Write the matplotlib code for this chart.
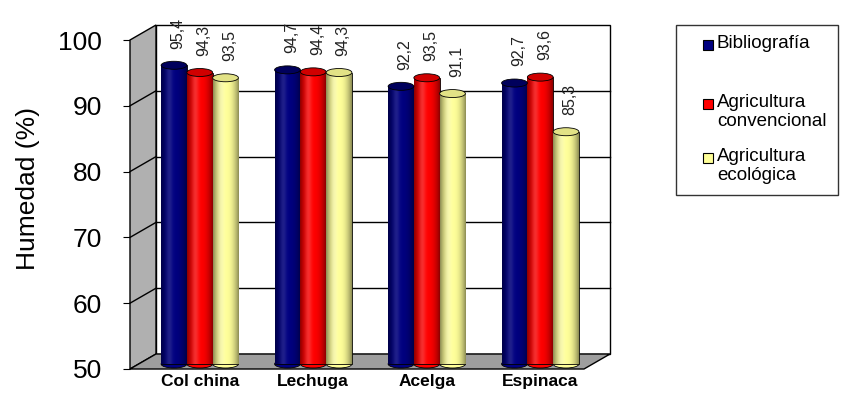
import numpy as np
import matplotlib
matplotlib.use('Agg')
import matplotlib.pyplot as plt
from matplotlib.patches import Polygon, Ellipse, Rectangle
from matplotlib.colors import to_rgb

plt.rcParams['font.family'] = ['Liberation Sans', 'DejaVu Sans']

# ---------------- data ----------------
categories = ['Col china', 'Lechuga', 'Acelga', 'Espinaca']
series_names = ['Bibliografía', 'Agricultura convencional', 'Agricultura ecológica']
legend_labels = ['Bibliografía', 'Agricultura\nconvencional', 'Agricultura\necológica']
bibliografia = [95.4, 94.7, 92.2, 92.7]
convencional = [94.3, 94.4, 93.5, 93.6]
ecologica = [93.5, 94.3, 91.1, 85.3]
y_ticks = [50, 60, 70, 80, 90, 100]
y_label = 'Humedad (%)'

series_values = [bibliografia, convencional, ecologica]
colors = ['#000080', '#ff0000', '#ffff99']
top_colors = ['#00005c', '#d00000', '#e2e286']

# ---------------- figure / axes ----------------
W, H = 843, 394
fig = plt.figure(figsize=(W / 100, H / 100), dpi=100)
AX_L, AX_R, AX_T, AX_B = 130, 584, 40, 369
ax = fig.add_axes([AX_L / W, 1 - AX_B / H, (AX_R - AX_L) / W, (AX_B - AX_T) / H])
XMIN, XMAX = -0.5, len(categories) - 0.5
YMIN, YMAX = y_ticks[0], y_ticks[-1]
ax.set_xlim(XMIN, XMAX)
ax.set_ylim(YMIN, YMAX)
ax.patch.set_visible(False)
for s in ax.spines.values():
    s.set_visible(False)

pxx = (AX_R - AX_L) / (XMAX - XMIN)
pxy = (AX_B - AX_T) / (YMAX - YMIN)
BDX, BDY = 26 / pxx, 15 / pxy     # depth of back wall
MDX, MDY = 13 / pxx, 5 / pxy      # bar plane

# back wall
ax.add_patch(Rectangle((XMIN + BDX, YMIN + BDY), XMAX - XMIN, YMAX - YMIN,
                       facecolor='white', edgecolor='black', lw=1.0, zorder=1, clip_on=False))
for v in y_ticks[1:-1]:
    ax.plot([XMIN + BDX, XMAX + BDX], [v + BDY, v + BDY], color='black', lw=1.0,
            zorder=1.5, clip_on=False)
# side wall
ax.add_patch(Polygon([(XMIN, YMIN), (XMIN, YMAX), (XMIN + BDX, YMAX + BDY), (XMIN + BDX, YMIN + BDY)],
                     closed=True, facecolor='#b0b0b0', edgecolor='black', lw=1.0, zorder=2, clip_on=False))
for v in y_ticks[1:-1]:
    ax.plot([XMIN, XMIN + BDX], [v, v + BDY], color='black', lw=1.0, zorder=2.1, clip_on=False)
# floor
ax.add_patch(Polygon([(XMIN, YMIN), (XMIN + BDX, YMIN + BDY), (XMAX + BDX, YMIN + BDY), (XMAX, YMIN)],
                     closed=True, facecolor='#9e9e9e', edgecolor='black', lw=1.0, zorder=2, clip_on=False))

# ---------------- cylinders ----------------
bw = 0.227
x = np.arange(len(categories))
ell_h = 8 / pxy
tt = np.linspace(0, 1, 80)


def shade(base, hl):
    b = np.array(to_rgb(base))
    d = 1 - 0.45 * np.abs(2 * tt - 1) ** 2.2
    h = hl * np.exp(-((tt - 0.32) / 0.13) ** 2)
    c = b[None, :] * d[:, None]
    c = c + (1 - c) * h[:, None]
    return np.clip(c, 0, 1)[None, :, :]


highlights = [0.12, 0.18, 0.25]
for k, vals in enumerate(series_values):
    xs = x + (k - 1) * bw + MDX
    heights = [v - YMIN for v in vals]
    bars = ax.bar(xs, heights, width=bw, bottom=YMIN + MDY, color=colors[k],
                  edgecolor='black', linewidth=0.6, zorder=3.1)
    grad = shade(colors[k], highlights[k])
    for xc, v, rect in zip(xs, vals, bars):
        ax.add_patch(Ellipse((xc, YMIN + MDY), bw, ell_h, facecolor=colors[k],
                             edgecolor='black', lw=0.6, zorder=3.0))
        im = ax.imshow(grad, extent=[xc - bw / 2, xc + bw / 2, YMIN + MDY, v + MDY],
                       aspect='auto', interpolation='bilinear', zorder=3.2)
        im.set_clip_path(rect)
        ax.add_patch(Ellipse((xc, v + MDY), bw, ell_h, facecolor=top_colors[k],
                             edgecolor='black', lw=0.6, zorder=3.3))
        ax.annotate(f'{v:.1f}'.replace('.', ','), xy=(xc, v + MDY), xytext=(3, 12),
                    textcoords='offset points', rotation=90, ha='center', va='bottom',
                    fontsize=11.5, color='#222222', zorder=5)

ax.set_xlim(XMIN, XMAX)
ax.set_ylim(YMIN, YMAX)

# ---------------- ticks ----------------
ax.set_yticks(y_ticks)
ax.set_yticklabels([str(t) for t in y_ticks])
ax.tick_params(axis='y', direction='out', length=5, width=0.8, pad=15, labelsize=19)
ax.set_xticks(x + MDX)
ax.set_xticklabels(categories, fontweight='bold', fontsize=12.5)
ax.tick_params(axis='x', length=0, pad=3.5)

fig.text(28 / W, 1 - 189 / H, y_label, rotation=90, ha='center', va='center', fontsize=19)

# ---------------- legend ----------------
fig.patches.append(Rectangle((676 / W, 1 - 195 / H), (838 - 676) / W, (195 - 25) / H,
                             transform=fig.transFigure, facecolor='white',
                             edgecolor='#333333', lw=1.0))
leg_y = [45, 104, 158]
for k, lab in enumerate(legend_labels):
    fig.patches.append(Rectangle((703 / W, 1 - (leg_y[k] + 5) / H), 10 / W, 10 / H,
                                 transform=fig.transFigure, facecolor=colors[k],
                                 edgecolor='black', lw=0.8))
    fig.text(717 / W, 1 - (leg_y[k] - 10) / H, lab, ha='left', va='top',
             fontsize=13.5, linespacing=1.12)

fig.savefig('out.png', dpi=100)
